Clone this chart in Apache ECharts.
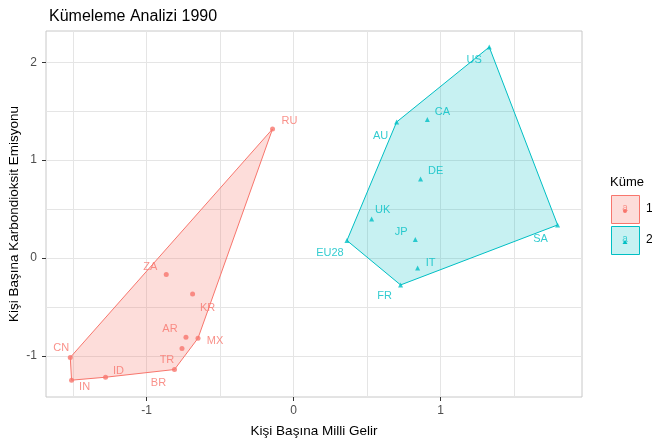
<!DOCTYPE html>
<html><head><meta charset="utf-8">
<script src="https://cdn.jsdelivr.net/npm/echarts@6/dist/echarts.min.js"></script>
<style>html,body{margin:0;padding:0;background:#fff}#c{width:652px;height:445px}</style>
</head><body><div id="c"></div>
<script>
const countries1 = ['RU','ZA','KR','AR','MX','TR','BR','ID','IN','CN'];
const income1 = [-0.143,-0.866,-0.687,-0.732,-0.650,-0.759,-0.810,-1.279,-1.510,-1.519];
const emission1 = [1.319,-0.169,-0.367,-0.809,-0.819,-0.924,-1.139,-1.218,-1.248,-1.016];
const hull1 = ['RU','MX','BR','ID','IN','CN'];

const countries2 = ['US','CA','AU','DE','UK','JP','EU28','IT','FR','SA'];
const income2 = [1.331,0.910,0.701,0.864,0.531,0.828,0.363,0.844,0.728,1.796];
const emission2 = [2.156,1.415,1.390,0.808,0.399,0.189,0.179,-0.101,-0.275,0.338];
const hull2 = ['US','SA','FR','EU28','AU'];

const xTicks = [-1, 0, 1];
const yTicks = [-1, 0, 1, 2];
const xMinor = [-1.5, -0.5, 0.5, 1.5];
const yMinor = [-0.5, 0.5, 1.5];

// label offsets (px), repel-like placement
const labelOffsets = {
  RU:[17,-8], ZA:[-16,-8], KR:[15,14], AR:[-16,-8], MX:[17,3], TR:[-15,12], BR:[-16,13], ID:[13,-6], IN:[13,7], CN:[-9,-9],
  US:[-15,13], CA:[15,-8], AU:[-16,14], DE:[15,-8], UK:[11,-9], JP:[-14,-8], EU28:[-17,12], IT:[13,-5], FR:[-16,11], SA:[-17,14]
};

const C1 = '#F8766D', C2 = '#00BFC4';
const FONT = 'Liberation Sans, Arial, sans-serif';

function pts(names, xs, ys) {
  return names.map((n, i) => ({ name: n, value: [xs[i], ys[i]],
    label: { offset: labelOffsets[n] } }));
}
function hullData(hull, names, xs, ys) {
  return hull.map(n => { const i = names.indexOf(n); return [xs[i], ys[i]]; });
}
function polySeries(data, color, fill) {
  return {
    type: 'custom', data: data, silent: true, z: 1,
    renderItem: function (params, api) {
      if (params.dataIndex !== 0) return;
      const p = data.map(d => api.coord(d));
      return { type: 'polygon', shape: { points: p },
        style: { fill: fill, stroke: color, lineWidth: 1 } };
    }
  };
}
function scatterSeries(data, color, symbol, size) {
  return {
    type: 'scatter', data: data, symbol: symbol, symbolSize: size, z: 3,
    itemStyle: { color: color },
    label: { show: true, position: 'inside', formatter: '{b}', color: color,
      fontSize: 11, fontFamily: FONT, textBorderWidth: 0, textBorderColor: 'transparent' }
  };
}

const gridLines = [].concat(
  xTicks.concat(xMinor).map(v => ({ xAxis: v })),
  yTicks.concat(yMinor).map(v => ({ yAxis: v }))
);

const chart = echarts.init(document.getElementById('c'), null, { renderer: 'canvas' });
chart.setOption({
  animation: false,
  backgroundColor: '#fff',
  title: { text: 'Kümeleme Analizi 1990', left: 44, top: 4,
    textStyle: { fontSize: 16, fontWeight: 'normal', color: '#000', fontFamily: FONT } },
  grid: { left: 46, right: 70, top: 31, bottom: 48, show: true, borderColor: '#c8c8c8', borderWidth: 1,
    containLabel: false, outerBoundsMode: 'none' },
  xAxis: {
    type: 'value', min: -1.684, max: 1.962,
    name: 'Kişi Başına Milli Gelir', nameLocation: 'middle', nameGap: 27, nameMoveOverlap: false,
    nameTextStyle: { fontSize: 13.5, color: '#000', fontFamily: FONT },
    axisLine: { show: false, onZero: false },
    axisTick: { show: true, customValues: xTicks, length: 4, lineStyle: { color: '#333' } },
    axisLabel: { customValues: xTicks, color: '#4d4d4d', fontSize: 12, margin: 8, fontFamily: FONT },
    splitLine: { show: false }
  },
  yAxis: {
    type: 'value', min: -1.42, max: 2.32,
    name: 'Kişi Başına Karbondioksit Emisyonu', nameLocation: 'middle', nameGap: 25, nameRotate: 90,
    nameMoveOverlap: false,
    nameTextStyle: { fontSize: 13.5, color: '#000', fontFamily: FONT },
    axisLine: { show: false, onZero: false },
    axisTick: { show: true, customValues: yTicks, length: 4, lineStyle: { color: '#333' } },
    axisLabel: { customValues: yTicks, color: '#4d4d4d', fontSize: 12, margin: 9, fontFamily: FONT },
    splitLine: { show: false }
  },
  series: [
    { type: 'scatter', data: [], z: 0, silent: true,
      markLine: { silent: true, symbol: 'none', label: { show: false }, animation: false, z: 0,
        lineStyle: { color: '#e5e5e5', type: 'solid', width: 1 }, data: gridLines } },
    polySeries(hullData(hull1, countries1, income1, emission1), C1, 'rgba(248,118,109,0.25)'),
    polySeries(hullData(hull2, countries2, income2, emission2), C2, 'rgba(0,191,196,0.22)'),
    scatterSeries(pts(countries1, income1, emission1), C1, 'circle', 5),
    scatterSeries(pts(countries2, income2, emission2), C2, 'triangle', 5)
  ],
  graphic: [
    { type: 'text', left: 610, top: 176, style: { text: 'Küme', fontSize: 13, fill: '#000', fontFamily: FONT } },
    { type: 'rect', shape: { x: 611.5, y: 195.5, width: 28, height: 28 },
      style: { fill: 'rgba(248,118,109,0.25)', stroke: C1, lineWidth: 1 } },
    { type: 'text', x: 625, y: 208, style: { text: 'a', fontSize: 10, fill: C1, align: 'center', verticalAlign: 'middle', fontFamily: FONT, opacity: 0.7 } },
    { type: 'circle', shape: { cx: 625, cy: 211, r: 2 }, style: { fill: C1 } },
    { type: 'text', x: 646, y: 209, style: { text: '1', fontSize: 12, fill: '#000', verticalAlign: 'middle', fontFamily: FONT } },
    { type: 'rect', shape: { x: 611.5, y: 226.5, width: 28, height: 28 },
      style: { fill: 'rgba(0,191,196,0.22)', stroke: C2, lineWidth: 1 } },
    { type: 'text', x: 625, y: 239, style: { text: 'a', fontSize: 10, fill: C2, align: 'center', verticalAlign: 'middle', fontFamily: FONT, opacity: 0.7 } },
    { type: 'polygon', shape: { points: [[625, 240], [622.5, 244], [627.5, 244]] }, style: { fill: C2 } },
    { type: 'text', x: 646, y: 240, style: { text: '2', fontSize: 12, fill: '#000', verticalAlign: 'middle', fontFamily: FONT } }
  ]
});
</script>
</body></html>
